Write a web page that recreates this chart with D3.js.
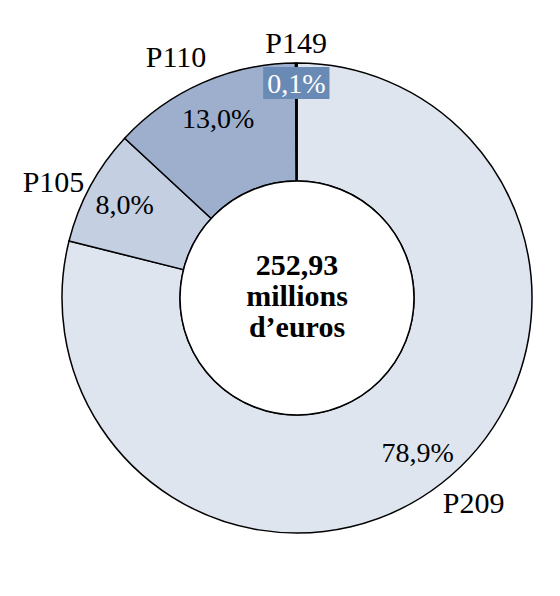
<!DOCTYPE html>
<html lang="fr">
<head>
<meta charset="UTF-8">
<title>Répartition des crédits</title>
<script src="https://cdnjs.cloudflare.com/ajax/libs/d3/7.8.5/d3.min.js"></script>
<style>
    body { margin: 0; background: #fff; }
    text { font-family: "Palatino Linotype", "Book Antiqua", Palatino, "Liberation Serif", serif; fill: #000; }
</style>
</head>
<body>
<svg id="chart" width="560" height="596"></svg>
<script>
    // programmes, in clockwise order from 12 o'clock
    const programmes = ["P209", "P105", "P110", "P149"];
    const shares = [78.9, 8.0, 13.0, 0.1];
    const shareLabels = ["78,9%", "8,0%", "13,0%", "0,1%"];
    const colours = ["#dfe5ef", "#c4cfe2", "#9dafcd", "#6a8ab6"];
    const centreLines = ["252,93", "millions", "d\u2019euros"];

    const cx = 297, cy = 298, rOuter = 235, rInner = 117;
    const svg = d3.select("#chart");
    const g = svg.append("g").attr("transform", `translate(${cx},${cy})`);

    const data = programmes.map((p, i) => ({ name: p, value: shares[i], label: shareLabels[i], colour: colours[i] }));
    const pie = d3.pie().value(d => d.value).sort(null);
    const arcs = pie(data);
    const arc = d3.arc().innerRadius(rInner).outerRadius(rOuter);

    g.selectAll("path.slice")
        .data(arcs)
        .enter()
        .append("path")
        .attr("class", "slice")
        .attr("d", arc)
        .style("fill", d => d.data.colour)
        .style("stroke", "#000")
        .style("stroke-width", 1.5);

    g.append("circle")
        .attr("r", rInner)
        .style("fill", "#fff")
        .style("stroke", "#000")
        .style("stroke-width", 1.5);

    const mid = d => (d.startAngle + d.endAngle) / 2;
    const polar = (a, r) => [r * Math.sin(a), -r * Math.cos(a)];

    // percentages inside the ring
    arcs.forEach((d, i) => {
        const small = d.data.value < 1;
        const [x, y] = polar(mid(d), small ? 215 : 196);
        if (small) {
            const t = g.append("text")
                .attr("x", x).attr("y", y)
                .attr("text-anchor", "middle")
                .attr("dominant-baseline", "central")
                .style("font-size", "28px")
                .style("fill", "#fff")
                .text(d.data.label);
            const bb = t.node().getBBox();
            g.insert("rect", "text")
                .attr("x", bb.x - 4).attr("y", y - 16)
                .attr("width", bb.width + 8).attr("height", 32)
                .style("fill", d.data.colour);
        } else {
            g.append("text")
                .attr("x", x).attr("y", y)
                .attr("text-anchor", "middle")
                .attr("dominant-baseline", "central")
                .style("font-size", "28px")
                .text(d.data.label);
        }
    });

    // programme names outside, nudged a little anticlockwise
    arcs.forEach(d => {
        const small = d.data.value < 1;
        const [x, y] = small ? polar(mid(d), 256) : polar(mid(d) - 0.05, 270);
        g.append("text")
            .attr("x", x).attr("y", y)
            .attr("text-anchor", "middle")
            .attr("dominant-baseline", "central")
            .style("font-size", "30px")
            .text(d.data.name);
    });

    // total in the hole
    g.selectAll("text.centre")
        .data(centreLines)
        .enter()
        .append("text")
        .attr("class", "centre")
        .attr("text-anchor", "middle")
        .attr("y", (d, i) => -23 + i * 31)
        .style("font-size", "30px")
        .style("font-weight", "bold")
        .text(d => d);
</script>
</body>
</html>
